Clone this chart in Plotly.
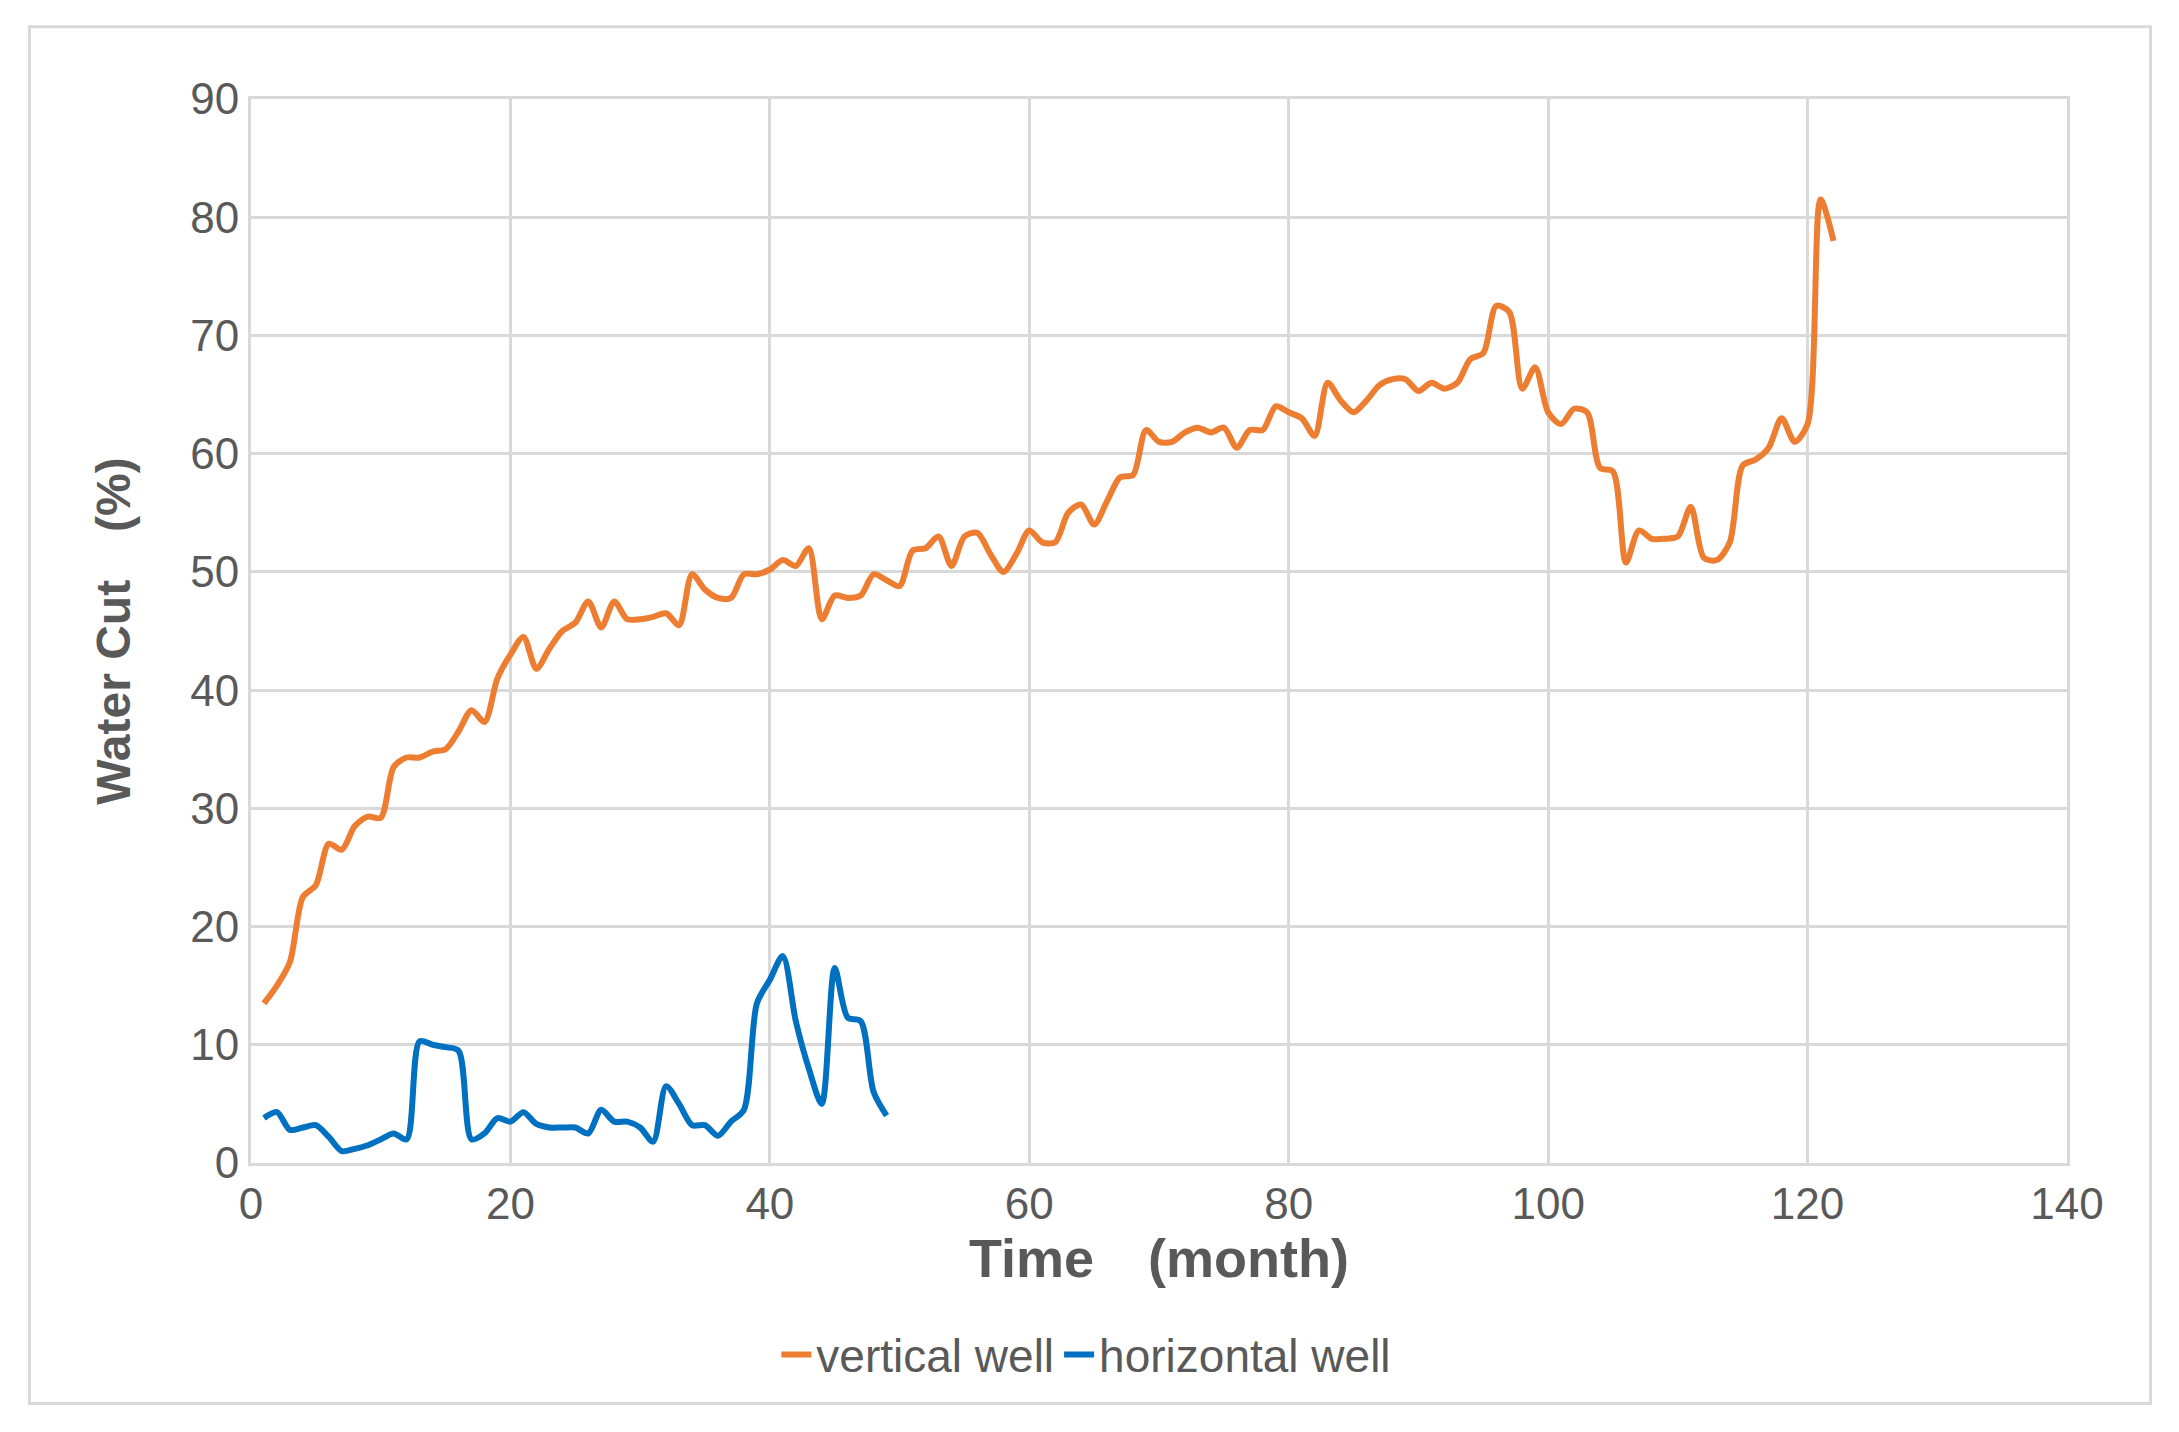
import plotly.graph_objects as go

vertical = [13.5, 15, 17, 22.5, 23.5, 27, 26.5, 28.5, 29.3, 29.2, 33.5, 34.3, 34.3, 34.8, 35, 36.5, 38.3, 37.3, 41, 43,
            44.5, 41.8, 43.5, 45, 45.7, 47.5, 45.3, 47.5, 46, 46, 46.2, 46.5, 45.5, 49.8, 48.5, 47.8, 47.8, 49.8, 49.8, 50.2,
            51, 50.5, 52, 46, 48, 47.8, 48, 49.8, 49.3, 48.8, 51.8, 52, 53, 50.5, 53, 53.3, 51.5, 50, 51.5, 53.5,
            52.5, 52.5, 55, 55.7, 54, 56, 58, 58.2, 62, 61, 61, 61.8, 62.2, 61.8, 62.2, 60.5, 62, 62, 64, 63.5,
            63, 61.5, 66, 64.5, 63.5, 64.5, 65.8, 66.3, 66.3, 65.3, 66, 65.5, 66, 68, 68.5, 72.5, 72, 65.5, 67.3, 63.5,
            62.5, 63.8, 63.5, 58.8, 58.5, 50.8, 53.5, 52.8, 52.8, 53, 55.5, 51.2, 51, 52.5, 59, 59.5, 60.5, 63, 61, 62.5,
            81.5, 78]
horizontal = [3.8, 4.3, 2.8, 3, 3.2, 2.2, 1, 1.2, 1.5, 2, 2.5, 2, 10.3, 10, 9.8, 9.5, 2, 2.5, 3.8, 3.5,
              4.3, 3.3, 3, 3, 3, 2.5, 4.5, 3.5, 3.5, 3, 1.8, 6.5, 5, 3.2, 3.2, 2.3, 3.5, 4.5, 13.5, 15.5,
              17.5, 12, 8, 5, 16.5, 12.3, 12, 6, 4]
months_v = list(range(1, len(vertical) + 1))
months_h = list(range(1, len(horizontal) + 1))

font = "Liberation Sans Narrow, Liberation Sans, sans-serif"
fig = go.Figure()
fig.add_trace(go.Scatter(x=months_v, y=vertical, mode="lines", name="vertical well",
                         line=dict(color="#ED7D31", width=6, shape="spline", smoothing=0.8)))
fig.add_trace(go.Scatter(x=months_h, y=horizontal, mode="lines", name="horizontal well",
                         line=dict(color="#0070C0", width=6, shape="spline", smoothing=0.8)))

axis_common = dict(showgrid=True, gridcolor="#D9D9D9", gridwidth=3, zeroline=False,
                   tickfont=dict(family=font, size=44, color="#595959"),
                   showline=True, linecolor="#D9D9D9", linewidth=3, mirror=True)
fig.update_xaxes(range=[0, 140], dtick=20, ticks="", ticklen=0,
                 title=dict(text="<b>Time\u3000(month)</b>", font=dict(family=font, size=54, color="#595959"), standoff=4),
                 **axis_common)
fig.update_yaxes(range=[0, 90], dtick=10, ticks="",
                 title=dict(text="<b>Water Cut\u3000(%)</b>", font=dict(family=font, size=48, color="#595959"), standoff=45),
                 **axis_common)
fig.update_layout(
    width=2179, height=1432,
    margin=dict(l=243, r=120, t=91, b=277),
    plot_bgcolor="white", paper_bgcolor="white",
    legend=dict(orientation="h", x=0.46, xanchor="center", y=-0.18, yanchor="middle",
                font=dict(family=font, size=46, color="#595959")),
    shapes=[dict(type="rect", xref="paper", yref="paper", x0=-0.122, x1=1.046, y0=-0.226, y1=1.068,
                 line=dict(color="#D9D9D9", width=3))],
)
fig.write_html("out.html")
